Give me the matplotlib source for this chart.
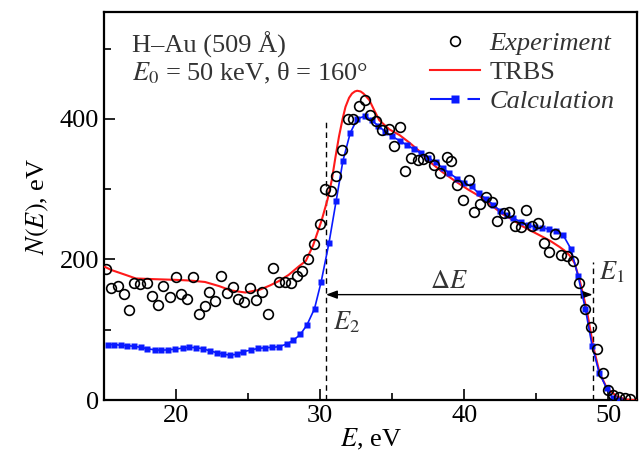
import numpy as np
import matplotlib
matplotlib.use("Agg")
import matplotlib.pyplot as plt
from matplotlib.lines import Line2D
from matplotlib.ticker import MultipleLocator

plt.rcParams['font.family'] = ['Liberation Serif', 'DejaVu Serif']
plt.rcParams['mathtext.fontset'] = 'stix'
plt.rcParams['font.size'] = 19

# experiment (open circles)
exp_E = [15.1, 15.5, 15.96, 16.36, 16.7, 17.1, 17.5, 17.96, 18.3, 18.75, 19.1, 19.56,
         19.98, 20.35, 20.75, 21.2, 21.55, 21.97, 22.3, 22.7, 23.1, 23.5, 23.97, 24.3,
         24.7, 25.13, 25.55, 25.95, 26.36, 26.7, 27.13, 27.55, 27.97, 28.4, 28.76, 29.15,
         29.57, 29.95, 30.3, 30.75, 31.1, 31.5, 31.94, 32.3, 32.7, 33.1, 33.47, 33.9,
         34.3, 34.75, 35.1, 35.5, 35.9, 36.3, 36.75, 37.1, 37.55, 37.9, 38.3, 38.77,
         39.1, 39.5, 39.9, 40.3, 40.7, 41.1, 41.5, 41.9, 42.3, 42.75, 43.1, 43.5,
         43.9, 44.3, 44.7, 45.1, 45.5, 45.9, 46.3, 46.7, 47.15, 47.55, 47.95, 48.36,
         48.78, 49.2, 49.6, 50.0, 50.35, 50.75, 51.15, 51.5]
exp_N = [186, 160, 162, 151, 128, 166, 165, 167, 148, 135, 162, 147,
         175, 151, 144, 175, 122, 134, 154, 141, 176, 152, 161, 144,
         139, 159, 142, 154, 122, 188, 168, 168, 167, 177, 184, 201,
         222, 250, 300, 297, 319, 356, 400, 400, 419, 427, 405, 397,
         384, 386, 361, 389, 326, 345, 342, 343, 346, 334, 323, 346,
         340, 306, 284, 313, 268, 279, 289, 282, 255, 266, 267, 247,
         246, 271, 248, 252, 224, 210, 236, 206, 205, 198, 167, 129,
         104, 72, 38, 14, 7, 4, 3, 1]

# TRBS (red line)
trbs_E = [15.0, 15.5, 16.5, 17.2, 18.5, 20.0, 21.0, 22.0, 23.0, 23.8, 24.8, 25.8,
          26.5, 27.1, 27.8, 28.5, 29.0, 29.5, 30.1, 30.5, 30.8, 31.05, 31.3, 31.55, 31.75,
          32.0, 32.2, 32.4, 32.56, 32.8, 33.0, 33.4, 33.75, 34.1, 34.8, 35.5, 36.2, 37.0,
          37.6, 38.5, 39.4, 40.3, 41.3, 42.0, 42.7, 43.3, 44.06, 44.8, 45.46, 46.0,
          46.6, 47.0, 47.3, 47.65, 48.0, 48.5, 48.95, 49.4, 49.9, 50.6, 51.2, 51.9]
trbs_N = [190, 185, 178, 173, 172, 171, 170, 168, 162, 156, 153, 157,
          163, 169, 178, 190, 198, 220, 256, 285, 313, 345, 375, 400, 417,
          430, 436, 439, 440, 439, 436, 427, 412, 398, 385, 377, 366, 352,
          339, 324, 311, 299, 287, 275, 264, 257, 247, 239, 232, 226,
          218, 212, 206, 195, 171, 128, 76, 38, 17, 5, 1, 0]

# calculation (blue squares)
calc_E = [15.25, 15.7, 16.15, 16.6, 17.1, 17.55, 18.0, 18.5, 18.95, 19.45, 19.95, 20.45,
          20.9, 21.4, 21.85, 22.35, 22.8, 23.25, 23.7, 24.2, 24.67, 25.16, 25.67, 26.18,
          26.64, 27.16, 27.7, 28.13, 28.62, 29.08, 29.6, 30.06, 30.6, 31.1, 31.57, 32.08,
          32.57, 33.1, 33.57, 34.03, 34.5, 35.0, 35.5, 36.0, 36.5, 37.0, 37.5, 38.0,
          38.5, 38.95, 39.5, 40.0, 40.5, 41.0, 41.5, 42.0, 42.5, 42.95, 43.4, 43.95,
          44.4, 44.9, 45.4, 45.9, 46.35, 46.85, 47.4, 47.9, 48.4, 48.87, 49.36, 49.87,
          50.3, 50.75]
calc_N = [79, 79, 78, 77.5, 76.5, 75, 73, 71.5, 71, 71.5, 72.5, 74,
          75, 74.5, 73, 70, 67.5, 65.5, 64, 65, 69, 71, 73.5, 74.5,
          75, 76, 80, 85, 93.5, 107, 130, 168, 223, 283, 340, 380,
          400, 404, 398, 390, 382, 375, 369, 363, 357, 351, 345, 338,
          330, 323, 315, 309, 304, 294, 286, 278, 269, 263, 259, 253,
          249, 246, 245, 243, 241, 235, 215, 176, 130, 77, 39, 17,
          3, 0.5]

E2 = 30.4
E1 = 48.9
E2_top = 395
E1_top = 196
arrow_N = 150

fig = plt.figure(figsize=(6.43, 4.62), dpi=100)
ax = fig.add_axes([0.162, 0.134, 0.829, 0.840])

ax.plot(trbs_E, trbs_N, color='#ff1a1a', lw=1.5, zorder=3)
ax.plot(calc_E, calc_N, color='#0a1aff', lw=1.2, marker='s', ms=5, mec='none', zorder=4)
ax.plot(exp_E, exp_N, ls='none', marker='o', ms=7, mfc='none', mec='black', mew=1.2, zorder=5)

ax.plot([E2, E2], [0, E2_top], color='black', lw=1, ls=(0, (4, 3)))
ax.plot([E1, E1], [0, E1_top], color='black', lw=1, ls=(0, (4, 3)))
ax.annotate('', xy=(E2, arrow_N), xytext=(E1, arrow_N),
            arrowprops=dict(arrowstyle='<|-|>,head_length=0.35,head_width=0.13', color='black', lw=1,
                            shrinkA=0, shrinkB=0))
ax.text(38.95, 168, r'$\Delta E$', ha='center', va='center', color='#333333')
ax.text(49.35, 182, r'$E_1$', ha='left', va='center', color='#333333')
ax.text(30.9, 111, r'$E_2$', ha='left', va='center', color='#333333')

ax.text(16.95, 505, 'H–Au (509 Å)', ha='left', va='center', color='#333333')
ax.text(16.95, 465, r'$E_0$ = 50 keV, θ = 160°', ha='left', va='center', color='#333333')

ax.set_xlim(15, 52)
ax.set_ylim(0, 552)
ax.xaxis.set_major_locator(MultipleLocator(10))
ax.xaxis.set_minor_locator(MultipleLocator(5))
ax.yaxis.set_major_locator(MultipleLocator(200))
ax.yaxis.set_minor_locator(MultipleLocator(100))
ax.tick_params(which='both', direction='in', top=False, right=False, width=1.2)
ax.tick_params(which='major', length=8)
ax.tick_params(which='minor', length=5)
for s in ax.spines.values():
    s.set_linewidth(1.6)

ax.set_xlabel(r'$E$, eV', labelpad=0)
ax.set_ylabel(r'$N(E)$, eV', labelpad=6)

h_exp = Line2D([], [], ls='none', marker='o', ms=7, mfc='none', mec='black', mew=1.2)
h_trbs = Line2D([], [], color='#ff1a1a', lw=1.5)
h_calc = Line2D([], [], color='#0a1aff', lw=1.5, ls=(0, (11, 7)), marker='s', ms=6, mec='none')
leg = ax.legend([h_exp, h_trbs, h_calc], ['Experiment', 'TRBS', 'Calculation'],
                loc='upper right', bbox_to_anchor=(0.995, 1.0), frameon=False,
                handlelength=1.9, handletextpad=0.35, labelspacing=0.2, borderpad=0.25,
                numpoints=1)
for t, st in zip(leg.get_texts(), ['italic', 'normal', 'italic']):
    t.set_style(st)
    t.set_color('#333333')

fig.savefig('out.png', dpi=100)
